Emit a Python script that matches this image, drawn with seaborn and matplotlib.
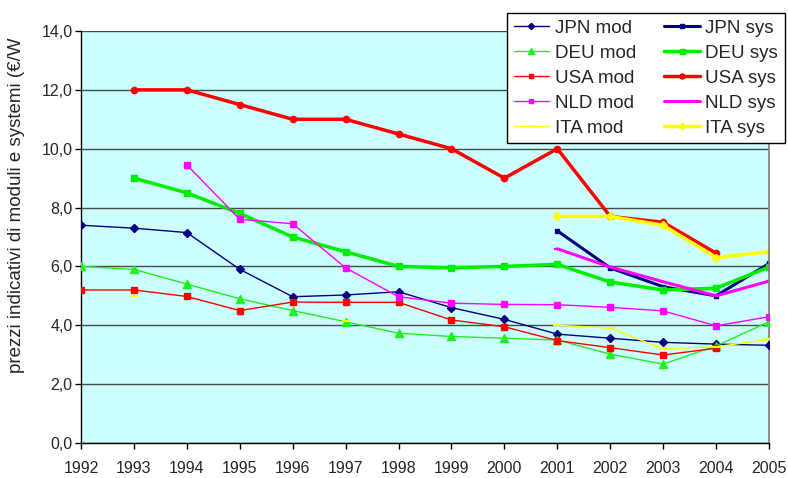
import numpy as np
import pandas as pd
import seaborn as sns
import matplotlib
matplotlib.use("Agg")
import matplotlib.pyplot as plt

nan = np.nan
years = list(range(1992, 2006))

# module prices (€/W)
jpn_mod = [7.4, 7.3, 7.15, 5.9, 4.97, 5.03, 5.14, 4.6, 4.2, 3.7, 3.56, 3.42, 3.36, 3.32]
deu_mod = [6.0, 5.9, 5.4, 4.9, 4.5, 4.12, 3.73, 3.62, 3.56, 3.5, 3.02, 2.68, 3.3, 4.12]
usa_mod = [5.2, 5.2, 4.98, 4.5, 4.79, 4.78, 4.78, 4.18, 3.95, 3.48, 3.24, 2.99, 3.22, nan]
nld_mod = [nan, nan, 9.45, 7.6, 7.45, 5.95, 4.97, 4.75, 4.71, 4.7, 4.61, 4.49, 3.98, 4.29]
ita_mod = [nan, 5.0, nan, nan, nan, 4.13, nan, nan, nan, 4.0, 3.9, 3.2, 3.27, 3.52]

# system prices (€/W)
jpn_sys = [nan, nan, nan, nan, nan, nan, nan, nan, nan, 7.21, 5.95, 5.31, 5.0, 6.1]
deu_sys = [nan, 9.0, 8.5, 7.8, 7.0, 6.5, 6.0, 5.95, 6.0, 6.07, 5.47, 5.2, 5.26, 5.98]
usa_sys = [nan, 12.0, 12.0, 11.5, 11.0, 11.0, 10.5, 10.0, 9.0, 10.0, 7.7, 7.5, 6.45, nan]
nld_sys = [nan, nan, nan, nan, nan, nan, nan, nan, nan, 6.6, 5.98, 5.48, 5.0, 5.5]
ita_sys = [nan, nan, nan, nan, nan, nan, nan, nan, nan, 7.7, 7.7, 7.4, 6.3, 6.5]

series = [
    ("JPN mod", jpn_mod, "#000080", "D", 1.0, 4.0),
    ("DEU mod", deu_mod, "#22EE22", "^", 1.0, 6.0),
    ("USA mod", usa_mod, "#FF0000", "s", 1.0, 4.3),
    ("NLD mod", nld_mod, "#FF00FF", "s", 1.0, 4.3),
    ("ITA mod", ita_mod, "#FFFF00", "_", 1.0, 6.0),
    ("JPN sys", jpn_sys, "#000080", "s", 2.2, 3.0),
    ("DEU sys", deu_sys, "#00EE00", "s", 2.5, 4.5),
    ("USA sys", usa_sys, "#FF0000", "o", 2.5, 4.5),
    ("NLD sys", nld_sys, "#FF00FF", "_", 2.2, 5.0),
    ("ITA sys", ita_sys, "#FFFF00", "D", 2.5, 4.0),
]

sns.set_theme(style="white")
plt.rcParams["font.family"] = ["Liberation Sans", "DejaVu Sans"]

fig = plt.figure(figsize=(7.88, 4.78), dpi=100)
ax = fig.add_axes([81 / 788, 1 - 443 / 478, (769 - 81) / 788, (443 - 31) / 478])
ax.set_facecolor("#CCFFFF")

for i in range(0, 15, 2):
    ax.axhline(i, color="#484848", lw=1.0, zorder=0.5)

handles = []
for name, vals, color, marker, lw, ms in series:
    df = pd.DataFrame({"year": years, "value": vals})
    # split into contiguous runs so gaps stay unconnected
    df["seg"] = df["value"].isna().cumsum()
    df = df.dropna()
    sns.lineplot(data=df, x="year", y="value", units="seg", estimator=None,
                 color=color, lw=lw, marker=marker, markersize=ms,
                 markeredgecolor=color, markeredgewidth=1.0 if marker != "_" else 1.5,
                 ax=ax, legend=False, zorder=3 if lw < 2 else 2)
    handles.append(plt.Line2D([], [], color=color, lw=lw, marker=marker,
                              markersize=ms * 0.8, markeredgecolor=color, label=name))

ax.set_xlim(1992, 2005)
ax.set_ylim(0, 14)
ax.set_xticks(years)
ax.set_xticklabels([str(y) for y in years], fontsize=11.5)
ax.set_yticks(range(0, 15, 2))
ax.set_yticklabels([f"{v:.1f}".replace(".", ",") for v in range(0, 15, 2)], fontsize=11.5)
ax.tick_params(axis="both", which="both", direction="out", length=4, width=1,
               color="black", left=True, bottom=True)
ax.tick_params(axis="x", pad=9)
ax.tick_params(axis="y", pad=2)
ax.set_xlabel("")
ax.set_ylabel("")

for s in ["left", "bottom"]:
    ax.spines[s].set_color("black")
    ax.spines[s].set_linewidth(1.0)
ax.spines["right"].set_color("#808080")
ax.spines["top"].set_visible(False)

fig.text(17 / 788, 1 - 205 / 478, "prezzi indicativi di moduli e systemi (€/W",
         rotation=90, ha="center", va="center", fontsize=13.5)

leg = fig.legend(handles=handles, ncol=2, loc="upper left",
                 bbox_to_anchor=(507 / 788, 1 - 13 / 478), fontsize=13.5,
                 frameon=True, fancybox=False, shadow=False,
                 handlelength=1.9, handletextpad=0.3, columnspacing=1.5,
                 labelspacing=0.42, borderpad=0.35, borderaxespad=0)
leg.get_frame().set_edgecolor("black")
leg.get_frame().set_linewidth(1.0)
leg.get_frame().set_facecolor("white")
leg.get_frame().set_alpha(1)

fig.savefig("out.png", dpi=100, facecolor="white")
